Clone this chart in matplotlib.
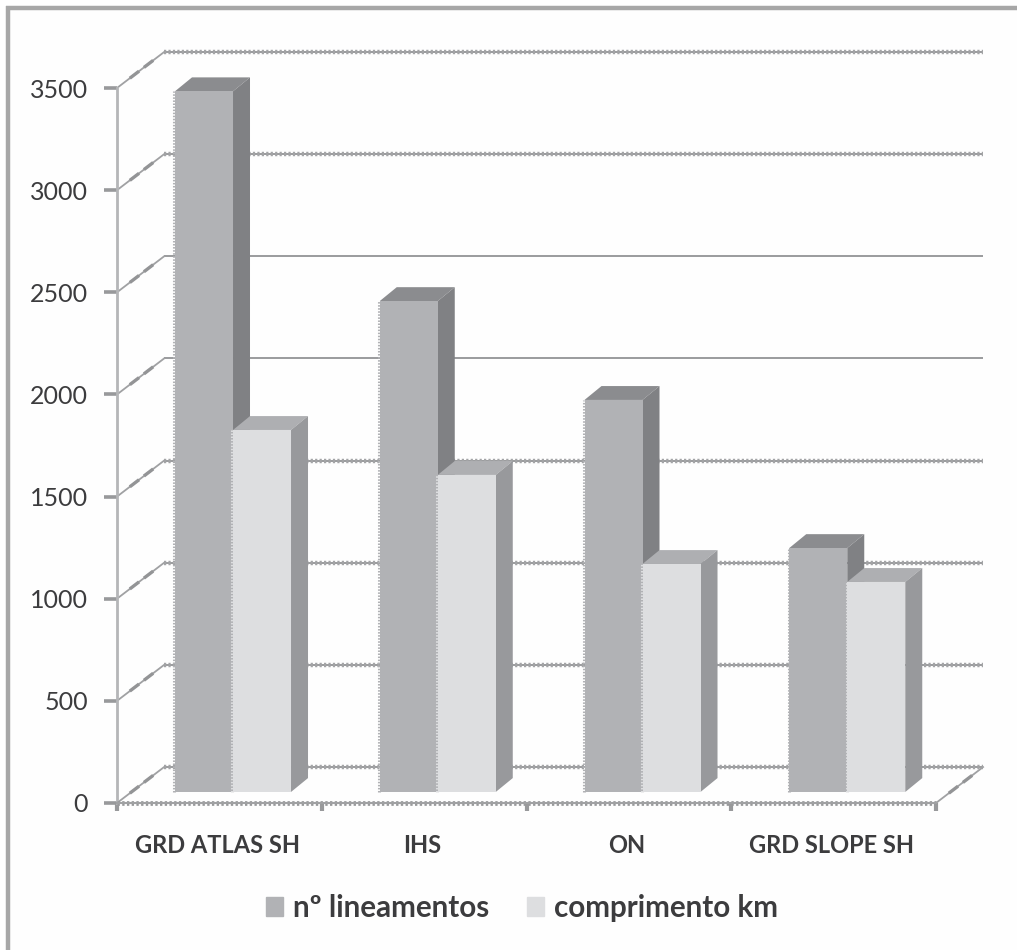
import matplotlib
matplotlib.use('Agg')
import matplotlib.pyplot as plt
from matplotlib.lines import Line2D
from matplotlib.patches import Patch, Polygon

plt.rcParams['font.family'] = ['Lato', 'DejaVu Sans']

categories = ['GRD ATLAS SH', 'IHS', 'ON', 'GRD SLOPE SH']
lineamentos = [3430, 2403, 1919, 1194]
comprimento = [1772, 1552, 1116, 1028]
y_ticks = [0, 500, 1000, 1500, 2000, 2500, 3000, 3500]
smooth_levels = [2000, 2500]

W, H = 1017, 950
# depth of the fake 3d wall and of the columns, in data units
wall_dx, wall_dy = 0.23, 176
bar_dx, bar_dy = 0.083, 68
base_dx, base_dy = 0.0666, 54
bar_w = 0.2833

dark = ('#b1b2b5', '#8b8c8f', '#808184')
light = ('#dddee0', '#aeafb2', '#98999c')
line_col = '#a0a1a3'
axis_col = '#b5b6b8'
tick_col = '#98999b'
text_col = '#3c3c3e'

fig = plt.figure(figsize=(W / 100, H / 100), dpi=100, facecolor='#fefefe')
ax = fig.add_axes([117 / W, 1 - 803 / H, 819 / W, 715 / H])
ax.set_xlim(0, 4)
ax.set_ylim(0, 3500)
ax.patch.set_visible(False)

# border only runs along the top and the left
fig.add_artist(Line2D([8 / W, 8 / W], [0, 1 - 6 / H], color='#a6a6a6', lw=3.2, solid_capstyle='butt'))
fig.add_artist(Line2D([6 / W, 1], [1 - 8 / H, 1 - 8 / H], color='#a6a6a6', lw=3.2, solid_capstyle='butt'))


def toothed(xs, ys, plain=False, z=1):
    ax.plot(xs, ys, color='#9a9b9d', lw=1.4, clip_on=False, zorder=z, solid_capstyle='butt')
    if not plain:
        ax.plot(xs, ys, color='#a3a4a6', lw=3.2, ls=(0, (0.5, 0.5)), clip_on=False, zorder=z)


def diagonal(x0, v):
    ax.plot([x0, x0 + wall_dx], [v, v + wall_dy], color=line_col, lw=1.3, clip_on=False, zorder=1)
    # thicker stretches along the diagonal
    for f0, f1 in [(0.3, 0.44), (0.6, 0.74)]:
        ax.plot([x0 + f0 * wall_dx, x0 + f1 * wall_dx], [v + f0 * wall_dy, v + f1 * wall_dy],
                color='#939496', lw=2.4, clip_on=False, zorder=1)


# back wall grid and the diagonals on the side wall
for v in y_ticks:
    toothed([wall_dx, 4 + wall_dx], [v + wall_dy] * 2, plain=v in smooth_levels)
    diagonal(0, v)
diagonal(4, 0)


def column(x, value, cols, z):
    bottom, top = base_dy, base_dy + value
    ax.add_patch(Polygon([(x, top), (x + bar_w, top), (x + bar_w + bar_dx, top + bar_dy),
                          (x + bar_dx, top + bar_dy)], fc=cols[1], ec='none', zorder=z, clip_on=False))
    ax.add_patch(Polygon([(x + bar_w, bottom), (x + bar_w + bar_dx, bottom + bar_dy),
                          (x + bar_w + bar_dx, top + bar_dy), (x + bar_w, top)],
                         fc=cols[2], ec='none', zorder=z, clip_on=False))
    ax.bar(x, value, bar_w, bottom=bottom, align='edge', color=cols[0], zorder=z + 0.1, clip_on=False)
    # rough left edge of the column
    ax.plot([x - 0.003] * 2, [bottom, top], color=cols[0], lw=2.2, ls=(0, (0.5, 0.5)), zorder=z + 0.1)


for i, (a, b) in enumerate(zip(lineamentos, comprimento)):
    left = i + 0.5 + base_dx - bar_w
    column(left, a, dark, 3 + i * 2)
    column(left + bar_w, b, light, 4 + i * 2)

# axes
for s in ['top', 'right']:
    ax.spines[s].set_visible(False)
ax.spines['left'].set_color(axis_col)
ax.spines['left'].set_linewidth(2)
ax.spines['bottom'].set_color(line_col)
ax.spines['bottom'].set_linewidth(1.5)
ax.spines['bottom'].set_zorder(20)
ax.plot([0, 4], [0, 0], color=tick_col, lw=3.4, ls=(0, (0.5, 0.5)), clip_on=False, zorder=20)

ax.set_yticks(y_ticks)
ax.tick_params(axis='y', direction='out', length=9.4, width=2.6, color=tick_col, pad=11.5,
               labelsize=18, labelcolor=text_col)
ax.set_xticks(range(5))
ax.set_xticklabels([''] * 5)
ax.tick_params(axis='x', which='major', direction='out', length=6, width=3, color=tick_col)
ax.set_xticks([i + 0.49 for i in range(4)], categories, minor=True)
ax.tick_params(axis='x', which='minor', length=0, pad=22, labelsize=17, labelcolor=text_col)
for t in ax.get_xticklabels(minor=True):
    t.set_fontweight('bold')

handles = [Patch(color=dark[0], label='nº lineamentos'), Patch(color=light[0], label='comprimento km')]
fig.legend(handles=handles, loc='center', bbox_to_anchor=(522 / W, 1 - 908 / H), ncol=2, frameon=False,
           handlelength=0.57, handleheight=0.6, handletextpad=0.32, columnspacing=1.3,
           prop={'size': 21.3, 'weight': 'bold'}, labelcolor=text_col)

fig.savefig('out.png', dpi=100, facecolor=fig.get_facecolor())
